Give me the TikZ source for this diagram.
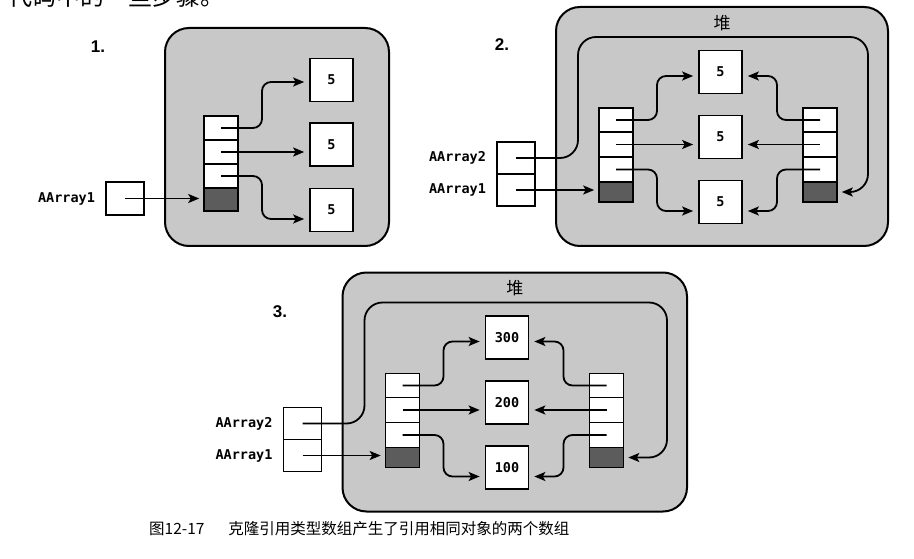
\documentclass[tikz,border=0pt]{standalone}
\usepackage{fontspec}
\usetikzlibrary{arrows.meta,calc}
\newfontfamily\cjk{Noto Sans CJK SC}
\newfontfamily\codefont{DejaVu Sans Mono}
\newfontfamily\numfont{Liberation Sans}
\definecolor{heapgray}{RGB}{200,200,200}
\definecolor{cellgray}{RGB}{92,92,92}
\tikzset{
  heap/.style={draw=black, fill=heapgray, line width=2pt, rounded corners=24pt},
  cellbox/.style={draw=black, fill=white, line width=1.6pt, minimum width=34pt, inner sep=0pt},
  darkcell/.style={cellbox, fill=cellgray},
  valbox/.style={draw=black, fill=white, line width=1.7pt, minimum width=43pt, minimum height=43pt, inner sep=0pt, font=\codefont\bfseries\fontsize{13.5}{15}\selectfont},
  lbl/.style={inner sep=0pt, font=\codefont\bfseries\fontsize{13.5}{15}\selectfont},
  heaplbl/.style={inner sep=0pt, font=\cjk\fontsize{17}{19}\selectfont},
  numlbl/.style={inner sep=0pt, font=\numfont\bfseries\fontsize{17}{19}\selectfont},
  ptr/.style={line width=1.8pt, -{Stealth[length=11pt,width=9pt,inset=2.5pt]}, shorten >=5pt, rounded corners=9pt},
  loopptr/.style={ptr, rounded corners=18pt},
}
% #1 prefix, #2 shift, #3 heap right edge, #4 loop right x, #5 #6 #7 values
\newcommand{\heappanel}[7]{%
\begin{scope}[shift={#2}]
  \draw[heap] (556,7) rectangle (#3,246);
  \node[heaplbl] (#1H) at ({(556+#3)/2},23) {堆};
  \node[cellbox, minimum width=38pt, minimum height=32pt] (#1A2) at (516,158) {};
  \node[cellbox, minimum width=38pt, minimum height=32pt] (#1A1) at (516,190) {};
  \node[lbl, anchor=east, xshift=-10pt] (#1t2) at (#1A2.west) {AArray2};
  \node[lbl, anchor=east, xshift=-10pt] (#1t1) at (#1A1.west) {AArray1};
  \node[cellbox, minimum height=24pt] (#1La) at (616,120) {};
  \node[cellbox, minimum height=25pt] (#1Lb) at (616,144.5) {};
  \node[cellbox, minimum height=25pt] (#1Lc) at (616,169.5) {};
  \node[darkcell, minimum height=20pt] (#1Ld) at (616,192) {};
  \node[cellbox, minimum height=24pt] (#1Ra) at (820,120) {};
  \node[cellbox, minimum height=25pt] (#1Rb) at (820,144.5) {};
  \node[cellbox, minimum height=25pt] (#1Rc) at (820,169.5) {};
  \node[darkcell, minimum height=20pt] (#1Rd) at (820,192) {};
  \node[valbox] (#1V1) at (720.5,72) {#5};
  \node[valbox] (#1V2) at (720.5,137) {#6};
  \node[valbox] (#1V3) at (720.5,202) {#7};
  \draw[ptr] (#1La.center) -- ++(41,0) |- ($(#1V1.west)+(0,4)$);
  \draw[ptr] (#1Lb.center) -- (#1Lb.center -| #1V2.west);
  \draw[ptr] (#1Lc.center) -- ++(41,0) |- ($(#1V3.west)+(0,9)$);
  \draw[ptr] (#1Ra.center) -- ++(-43,0) |- ($(#1V1.east)+(0,4)$);
  \draw[ptr] (#1Rb.center) -- (#1Rb.center -| #1V2.east);
  \draw[ptr] (#1Rc.center) -- ++(-43,0) |- ($(#1V3.east)+(0,9)$);
  \draw[ptr, shorten >=4pt] (#1A1.center) -- (#1A1.center -| #1Ld.west);
  \draw[loopptr, shorten >=4pt] (#1A2.center) -| (578,37) -| (#4,192) -- (#1Rd.east);
\end{scope}}
\begin{document}
\begin{tikzpicture}[x=1pt,y=-1pt]
\useasboundingbox (0,0) rectangle (914,559);
\fill[white] (0,0) rectangle (914,559);
% cropped line of text at the top
\node[anchor=base west, inner sep=0pt, font=\cjk\fontsize{24}{26}\selectfont] (toptext) at (8,6) {代码中的一些步骤。};
% panel 1
\draw[heap] (165,28) rectangle (389,246);
\node[numlbl] (n1) at (98,47) {1.};
\node[cellbox, minimum width=38pt, minimum height=33pt] (P1A) at (125,198.5) {};
\node[lbl, anchor=east, xshift=-10pt] (P1t) at (P1A.west) {AArray1};
\node[cellbox, minimum height=24pt] (P1a) at (221,128) {};
\node[cellbox, minimum height=24pt] (P1b) at (221,152) {};
\node[cellbox, minimum height=24pt] (P1c) at (221,176) {};
\node[darkcell, minimum height=23pt] (P1d) at (221,199.5) {};
\node[valbox] (P1v1) at (331.5,80) {5};
\node[valbox] (P1v2) at (331.5,144.5) {5};
\node[valbox] (P1v3) at (331.5,210) {5};
\draw[ptr] (P1a.center) -- ++(41,0) |- ($(P1v1.west)+(0,2)$);
\draw[ptr] (P1b.center) -- (P1b.center -| P1v2.west);
\draw[ptr] (P1c.center) -- ++(41,0) |- ($(P1v3.west)+(0,9)$);
\draw[ptr, shorten >=4pt] (P1A.center) -- (P1A.center -| P1d.west);
% panel 2
\node[numlbl] (n2) at (502,45) {2.};
\heappanel{P2}{(0,0)}{888}{868}{5}{5}{5}
% panel 3
\node[numlbl] (n3) at (280,312) {3.};
\heappanel{P3}{(-213.5,265.5)}{900.5}{880.5}{300}{200}{100}
% caption
\node[anchor=base west, inner sep=0pt, font=\cjk\fontsize{15.5}{18}\selectfont] (cap) at (149,534) {图12-17\hspace{24pt}克隆引用类型数组产生了引用相同对象的两个数组};
\end{tikzpicture}
\end{document}
